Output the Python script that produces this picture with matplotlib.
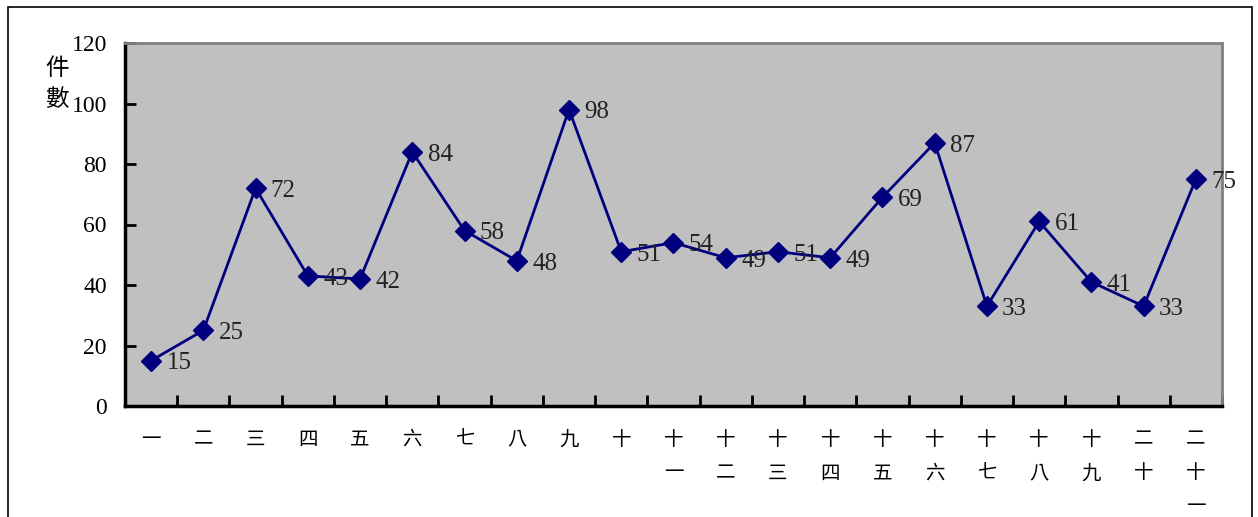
import matplotlib.pyplot as plt
from matplotlib.patches import Rectangle

plt.rcParams['font.family'] = ['Liberation Serif', 'Noto Sans CJK TC', 'DejaVu Sans']

counts = [15, 25, 72, 43, 42, 84, 58, 48, 98, 51, 54, 49, 51, 49, 69, 87, 33, 61, 41, 33, 75]
cat_labels = ['一', '二', '三', '四', '五', '六', '七', '八', '九', '十',
              '十\n一', '十\n二', '十\n三', '十\n四', '十\n五', '十\n六',
              '十\n七', '十\n八', '十\n九', '二\n十', '二\n十\n一']
y_ticks = [0, 20, 40, 60, 80, 100, 120]

fig = plt.figure(figsize=(12.58, 5.17), dpi=100)
W, H = 1258, 517
ax = fig.add_axes([125 / W, 1 - 406 / H, (1222 - 125) / W, (406 - 43) / H])

# outer frame
fig.patches.append(Rectangle((8 / W, -0.01), (1252 - 8) / W, 1 - 7 / H + 0.01,
                             transform=fig.transFigure, fill=False,
                             edgecolor='black', lw=1.2))

x = list(range(len(counts)))
ax.set_facecolor('#c0c0c0')
ax.plot(x, counts, color='#00007f', lw=2, marker='D', ms=10,
        markerfacecolor='#00007f', markeredgecolor='#00007f', zorder=3)
for xi, v in zip(x, counts):
    ax.annotate(str(v), (xi, v), xytext=(11, -2), textcoords='offset points',
                ha='left', va='center', fontsize=18, color='#222222')

ax.set_xlim(-0.5, len(counts) - 0.5)
ax.set_ylim(0, 120)
ax.set_yticks(y_ticks)
ax.set_yticklabels([str(t) for t in y_ticks], fontsize=17)
ax.set_xticks([i + 0.5 for i in range(len(counts) - 1)] + [len(counts) - 0.5])
ax.set_xticklabels([])
ax.tick_params(axis='both', direction='in', length=8, width=2)
ax.tick_params(axis='y', pad=13)

for xi, lab in zip(x, cat_labels):
    ax.text(xi, -7.5, lab, ha='center', va='top', fontsize=14,
            family=['Noto Sans CJK TC'], linespacing=1.8,
            transform=ax.transData, clip_on=False)

ax.spines['left'].set_linewidth(2.5)
ax.spines['bottom'].set_linewidth(2.5)
ax.spines['top'].set_color('#808080')
ax.spines['right'].set_color('#808080')
ax.spines['top'].set_linewidth(2)
ax.spines['right'].set_linewidth(2)

fig.text(57 / W, 1 - 84 / H, '件\n數', ha='center', va='center', fontsize=17,
         family=['Noto Sans CJK TC'], linespacing=1.4)

fig.savefig('out.png', dpi=100, facecolor='white')
